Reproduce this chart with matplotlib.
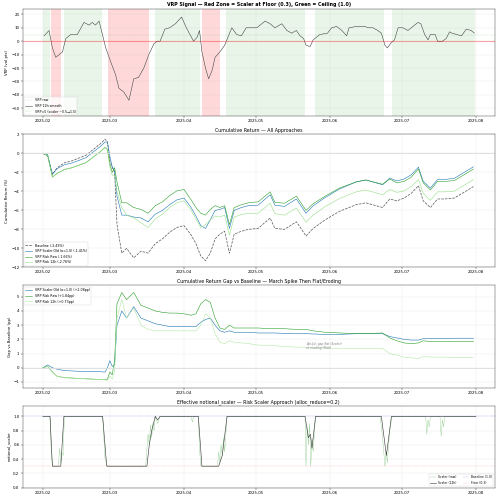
import matplotlib
matplotlib.use("Agg")
import matplotlib.pyplot as plt
import matplotlib.dates as mdates
import pandas as pd
import numpy as np

T0 = pd.Timestamp("2025-02-01")
def D(days):
    return T0 + pd.to_timedelta(np.asarray(days, float), unit="D")

# ---- Panel 1: VRP signal ----
vrp_days = [0.5,2.6,4,5.4,8.2,9.6,11.7,14.4,17.2,19.3,20.7,22,23.5,24.9,26.3,28.3,30.4,31.8,33.9,36,38,40,42.2,44.3,46.4,47.8,49,51,53,55.4,58,60,63,64.5,65.5,66.5,68,69.3,70.7,72,74,76,79,81,83,85,
            86.7,89.4,92.9,95,97,99.9,102,104,106,107.5,109,110,111.7,113,115.8,119,120.7,122.8,125,127,128,131,134.6,136,138,140,141.5,143,144,145.7,147,148.5,150.5,152.6,154.7,156.8,158,159.6,161,162,164,165,167,168.6,170,171,173,175,177,179,180.4]
vrp_smooth = [4,8,-5,-12,-8,2,5,5,14,12,14,12,15,5,-5,-15,-25,-35,-38,-44,-28,-27,-20,-10,-2,0,0,9,10,13,18,10,0,3,8,-8,-20,-28,-22,-12,-8,-3,10,5,4,10,
              10,10,15,13,10,13,8,6,8,4,2,-3,-4,1,5,6,10,11,8,4,10,11,11,10,10,8,6,-3,-5,-1,1,10,10,8,11,14,13,5,1,5,5,0,0,2,7,6,5,4,9,8,6]
green_spans = [(0,3.2),(8.9,24.9),(46.7,65.8),(76.5,109.6),(113.7,142.5),(146,180.7)]
red_spans = [(3.6,7.5),(27.2,44.3),(66.5,74.2)]

# ---- Panel 2/3: cumulative returns and gaps ----
days = [0,2,4,6,9,12,15,18,21,24,26,27,28,29,30,31,33,35,38,41,44,47,50,53,56,59,62,64,66,68,70,72,74,76,78,80,83,86,90,95,97,101,106,110,113,118,124,131,135,142,145,148,151,154,157,159,162,165,168,172,176,180]
baseline = [0,-0.3,-2.2,-1.5,-1.0,-0.8,-0.5,-0.2,0.4,1.0,1.5,1.2,-0.8,-1.5,-2.0,-7.5,-10.5,-10.0,-11.0,-10.3,-10.5,-9.5,-9.0,-8.3,-7.8,-7.6,-8.6,-9.5,-10.8,-11.3,-10.5,-9.0,-8.5,-8.2,-10.5,-8.5,-8.2,-8.0,-7.9,-6.8,-7.9,-8.0,-7.2,-8.7,-7.9,-7.0,-6.1,-5.4,-5.2,-5.7,-4.8,-5.0,-4.7,-4.2,-3.4,-5.0,-5.7,-4.8,-4.8,-4.7,-4.1,-3.49]
gap_old = [0,0.2,0,-0.1,-0.2,-0.22,-0.25,-0.25,-0.25,-0.28,-0.3,0.0,0.5,0.1,0.2,3.0,4.0,3.5,4.3,3.5,3.3,3.1,3.0,2.9,2.9,2.9,2.9,2.9,3.2,3.4,3.5,3.0,2.6,2.5,2.6,2.5,2.5,2.5,2.45,2.45,2.45,2.42,2.4,2.4,2.38,2.35,2.35,2.4,2.4,2.4,2.2,2.1,2.0,1.95,1.95,2.05,2.05,2.05,2.05,2.08,2.08,2.08]
gap_raw = [0,0.1,-0.3,-0.6,-0.7,-0.72,-0.75,-0.78,-0.8,-0.82,-0.85,-0.8,-0.3,-0.5,0.5,4.5,5.3,4.8,5.3,4.4,4.2,4.0,3.9,3.85,3.85,3.8,3.7,3.8,4.5,4.8,4.6,3.5,2.8,2.7,3.0,2.8,2.8,2.8,2.8,2.75,2.75,2.75,2.7,2.7,2.6,2.5,2.45,2.4,2.4,2.45,2.1,1.9,1.75,1.7,1.75,1.9,1.85,1.85,1.85,1.84,1.84,1.84]
gap_12h = [0,0.1,-0.3,-0.6,-0.7,-0.72,-0.75,-0.78,-0.8,-0.82,-0.85,-0.9,-0.6,-0.8,-0.3,3.5,4.8,3.5,4.2,3.0,2.7,2.6,2.6,2.6,2.6,2.6,2.6,2.6,3.0,3.8,3.5,2.4,1.8,1.7,1.9,1.8,1.75,1.7,1.6,1.55,1.55,1.5,1.45,1.45,1.4,1.4,1.35,1.35,1.35,1.35,1.0,0.9,0.75,0.7,0.65,0.8,0.75,0.75,0.75,0.73,0.73,0.73]

# ---- Panel 4: scaler ----
sc_days = [0,3,4,7.5,8.8,25,26.7,43.5,44.5,45.5,47,48,49,65,66.5,73.5,75,77,109.6,111,111.8,112.5,114,141.5,143.6,145.7,181]
sc_12h = [1,1,0.3,0.3,1,1,0.3,0.3,0.6,0.8,1,0.95,1,1,0.3,0.3,0.45,1,1,0.7,0.75,0.55,1,1,0.45,1,1]
raw_days = [0,3,3.5,4,6.5,7,7.5,8,8.5,9,25,26,26.5,27,43,43.5,44,44.5,45,45.5,46,46.5,47,48,49,62,62.5,63,65,65.5,66,73,73.5,74,74.5,75,75.5,76,77,109.6,110,110.5,111,111.5,112,112.5,113,114,141,142,143,143.5,144,145,146,160,160.5,161,161.5,162,166,166.5,167,167.5,168,181]
sc_raw = [1,1,0.5,0.3,0.3,0.55,0.35,0.5,0.45,1,1,0.4,0.35,0.3,0.3,0.55,0.75,0.6,0.88,0.7,0.9,0.8,1,0.9,1,1,0.92,1,1,0.55,0.3,0.3,0.5,0.35,0.6,0.45,0.7,0.5,1,1,0.3,0.85,0.6,0.9,0.3,0.7,0.5,1,1,0.7,0.3,0.5,0.35,0.8,1,1,0.75,0.95,0.85,1,1,0.72,0.95,0.85,1,1]

fig, axes = plt.subplots(4, 1, figsize=(16, 16), dpi=31.25,
                         gridspec_kw=dict(height_ratios=[1.05, 1.3, 1.0, 0.8]))
plt.subplots_adjust(left=0.045, right=0.99, top=0.982, bottom=0.025, hspace=0.17)
fs = 9

ax = axes[0]
for a, b in green_spans:
    ax.axvspan(D(a), D(b), color="#2ca02c", alpha=0.1, lw=0)
for a, b in red_spans:
    ax.axvspan(D(a), D(b), color="red", alpha=0.15, lw=0)
ax.plot(D(vrp_days), vrp_smooth, color="#cccccc", lw=0.6, label="VRP raw")
ax.plot(D(vrp_days), vrp_smooth, color="#444444", lw=1.2, label="VRP 12h smooth")
ax.axhline(0, color="red", lw=2.5, alpha=0.35)
ax.axhline(5, color="#2ca02c", lw=1, ls=":", alpha=0.6, label="VRP=5 (scaler ~0.5→1.5)")
ax.set_ylim(-56, 24)
ax.set_ylabel("VRP (vol pts)", fontsize=fs)
ax.set_title("VRP Signal — Red Zone = Scaler at Floor (0.3), Green = Ceiling (1.0)", fontsize=11, fontweight="bold")
ax.legend(loc="lower left", fontsize=7.5)

ax = axes[1]
d = D(days)
bl = np.array(baseline)
ax.plot(d, bl, color="#555555", ls="--", lw=1.6, label="Baseline (-3.49%)")
ax.plot(d, bl + np.array(gap_old), color="#1f77b4", lw=1.3, label="VRP Scaler Old (α=1.0) (-1.41%)")
ax.plot(d, bl + np.array(gap_raw), color="#2ca02c", lw=1.3, label="VRP Risk Raw (-1.66%)")
ax.plot(d, bl + np.array(gap_12h), color="#98df8a", lw=1.3, label="VRP Risk 12h (-2.76%)")
ax.axhline(0, color="#dddddd", lw=2)
ax.set_ylim(-12, 2)
ax.set_ylabel("Cumulative Return (%)", fontsize=fs)
ax.set_title("Cumulative Return — All Approaches", fontsize=11)
ax.legend(loc="lower left", fontsize=7.5)

ax = axes[2]
ax.plot(d, gap_old, color="#1f77b4", lw=1.3, label="VRP Scaler Old (α=1.0) (+2.08pp)")
ax.plot(d, gap_raw, color="#2ca02c", lw=1.3, label="VRP Risk Raw (+1.84pp)")
ax.plot(d, gap_12h, color="#b5e8a8", lw=1.3, label="VRP Risk 12h (+0.73pp)")
ax.axhline(0, color="#dddddd", lw=2)
ax.text(D(110), 1.3, "Apr-Jul: gap flat (Scaler)\nor eroding (Risk)", fontsize=7, style="italic", color="gray")
ax.set_ylim(-1.4, 5.8)
ax.set_ylabel("Gap vs Baseline (pp)", fontsize=fs)
ax.set_title("Cumulative Return Gap vs Baseline — March Spike Then Flat/Eroding", fontsize=11)
ax.legend(loc="upper left", fontsize=7.5)

ax = axes[3]
ax.plot(D(raw_days), sc_raw, color="#2ca02c", lw=0.8, alpha=0.6, label="Scaler (raw)")
ax.plot(D(sc_days), sc_12h, color="#333333", lw=1.3, label="Scaler (12h)")
ax.axhline(1.0, color="blue", ls=":", lw=1, alpha=0.5, label="Baseline (1.0)")
ax.axhline(0.3, color="red", ls=":", lw=1, alpha=0.5, label="Floor (0.3)")
ax.set_ylim(0, 1.15)
ax.set_yticks([0, 0.2, 0.4, 0.6, 0.8, 1.0])
ax.set_ylabel("notional_scaler", fontsize=fs)
ax.set_title("Effective notional_scaler — Risk Scaler Approach (alloc_reduce=0.2)", fontsize=11)
ax.legend(loc="lower right", fontsize=7, ncol=2)

for ax in axes:
    ax.grid(True, alpha=0.3)
    ax.tick_params(labelsize=fs)
    ax.xaxis.set_major_locator(mdates.MonthLocator())
    ax.xaxis.set_major_formatter(mdates.DateFormatter("%Y-%m"))
    ax.set_xlim(D(-8.5), D(189))

fig.savefig("out.png", dpi=31.25)
